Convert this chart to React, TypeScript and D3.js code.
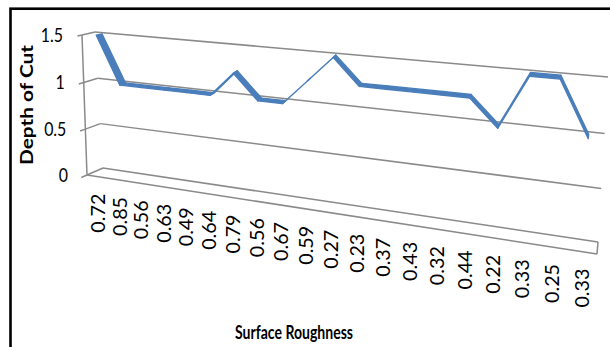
import React from "react";
import * as d3 from "d3";

// ---- data ----
const categories = ["0.72", "0.85", "0.56", "0.63", "0.49", "0.64", "0.79", "0.56", "0.67", "0.59", "0.27", "0.23", "0.37", "0.43", "0.32", "0.44", "0.22", "0.33", "0.25", "0.33"];
const depthOfCut = [1.5, 1, 1, 1, 1, 1, 1.25, 1, 1, 1.25, 1.5, 1.25, 1.25, 1.25, 1.25, 1.25, 1, 1.5, 1.5, 1];
const yTicks = [0, 0.5, 1, 1.5];
const yTickLabels = ["0", "0.5", "1", "1.5"];
const xTitle = "Surface Roughness";
const yTitle = "Depth of Cut";

// ---- layout (3D box corners in screen space) ----
const W = 610;
const H = 347;
type Pt = [number, number];

function squareToQuad(p0: Pt, p1: Pt, p2: Pt, p3: Pt) {
  // p0=(0,0) p1=(1,0) p2=(1,1) p3=(0,1)
  const [x0, y0] = p0, [x1, y1] = p1, [x2, y2] = p2, [x3, y3] = p3;
  const dx1 = x1 - x2, dx2 = x3 - x2, dx3 = x0 - x1 + x2 - x3;
  const dy1 = y1 - y2, dy2 = y3 - y2, dy3 = y0 - y1 + y2 - y3;
  const den = dx1 * dy2 - dx2 * dy1;
  const g = (dx3 * dy2 - dx2 * dy3) / den;
  const h = (dx1 * dy3 - dx3 * dy1) / den;
  const a = x1 - x0 + g * x1, b = x3 - x0 + h * x3, c = x0;
  const d = y1 - y0 + g * y1, e = y3 - y0 + h * y3, f = y0;
  return (u: number, v: number): Pt => {
    const w = g * u + h * v + 1;
    return [(a * u + b * v + c) / w, (d * u + e * v + f) / w];
  };
}

const backWall = squareToQuad([103, 168], [598, 242], [608, 77], [95, 32]);
const frontWall = squareToQuad([87, 175], [597, 254], [607, 86], [82, 35]);
function proj(u: number, v: number, z: number): Pt {
  const b = backWall(u, v);
  const f = frontWall(u, v);
  return [b[0] + (f[0] - b[0]) * z, b[1] + (f[1] - b[1]) * z];
}

const xBand = d3.scaleBand<number>().domain(d3.range(categories.length)).range([0, 1]);
const xU = (i: number) => (xBand(i) as number) + xBand.bandwidth() / 2;
const yV = d3.scaleLinear().domain([0, 1.5]).range([0, 1]);

const Z_BACK = 0.27;
const Z_FRONT = 0.73;
const GRID = "#8a8a8a";
const SERIES = "#4a7ebb";
const FONT = "Lato, 'Open Sans', sans-serif";

const line = d3.line<Pt>();

export default function App() {
  const grid = yTicks.map((t, k) => {
    const v = yV(t);
    const backLine = line([proj(0, v, 0), proj(1, v, 0)]);
    const sideLine = line([proj(0, v, 1), proj(0, v, 0)]);
    const tick = line([proj(0, v, 1.35), proj(0, v, 1)]);
    const lp = proj(0, v, 1);
    return (
      <g key={k}>
        <path d={backLine!} stroke={GRID} strokeWidth={1.5} fill="none" />
        <path d={sideLine!} stroke={GRID} strokeWidth={1.5} fill="none" />
        <path d={tick!} stroke={GRID} strokeWidth={1.5} fill="none" />
        <text transform={`translate(${lp[0] - 19},${lp[1]}) scale(0.86,1)`} dy="0.36em" textAnchor="end" fontFamily={FONT} fontSize={18.5} fill="#000">
          {yTickLabels[k]}
        </text>
      </g>
    );
  });

  const floorFront = line([proj(0, 0, 1), proj(1, 0, 1)]);
  const floorRight = line([proj(1, 0, 0), proj(1, 0, 1)]);
  const axisLine = line([proj(0, 0, 1), proj(0, 1, 1)]);

  const segs = [] as JSX.Element[];
  for (let i = 0; i < depthOfCut.length - 1; i++) {
    const u0 = xU(i), u1 = xU(i + 1);
    const v0 = yV(depthOfCut[i]), v1 = yV(depthOfCut[i + 1]);
    const pts: Pt[] = [proj(u0, v0, Z_BACK), proj(u1, v1, Z_BACK), proj(u1, v1, Z_FRONT), proj(u0, v0, Z_FRONT)];
    segs.push(
      <path key={i} d={line(pts)! + "Z"} fill={SERIES} stroke={SERIES} strokeWidth={1.3} strokeLinejoin="round" />
    );
  }

  const labels = categories.map((c, i) => {
    const p = proj(xU(i), 0, 1);
    const x = p[0] + 1;
    const y = p[1] + 17;
    return (
      <text key={i} transform={`translate(${x},${y}) rotate(-90)`} dy="0.36em" textAnchor="end" fontFamily={FONT} fontSize={18.5} textLength={39} lengthAdjust="spacingAndGlyphs" fill="#000">
        {c}
      </text>
    );
  });

  return (
    <svg width={W} height={H} style={{ position: "absolute", left: 0, top: 0, display: "block", background: "#fff" }}>
      <rect x={0} y={0} width={W} height={H} fill="#fff" />
      <rect x={10.5} y={8.7} width={700} height={500} fill="none" stroke="#000" strokeWidth={2.6} />
      {grid}
      <path d={floorFront!} stroke={GRID} strokeWidth={1.5} fill="none" />
      <path d={floorRight!} stroke={GRID} strokeWidth={1.5} fill="none" />
      <path d={axisLine!} stroke={GRID} strokeWidth={1.5} fill="none" />
      {segs}
      {labels}
      <text transform={`translate(27,105) rotate(-90)`} dy="0.36em" textAnchor="middle" fontFamily={FONT} fontWeight="bold" fontSize={16.5} textLength={120} lengthAdjust="spacingAndGlyphs" fill="#000">
        {yTitle}
      </text>
      <text x={294} y={339} textAnchor="middle" fontFamily={FONT} fontWeight="bold" fontSize={18} textLength={118} lengthAdjust="spacingAndGlyphs" fill="#000">
        {xTitle}
      </text>
    </svg>
  );
}
